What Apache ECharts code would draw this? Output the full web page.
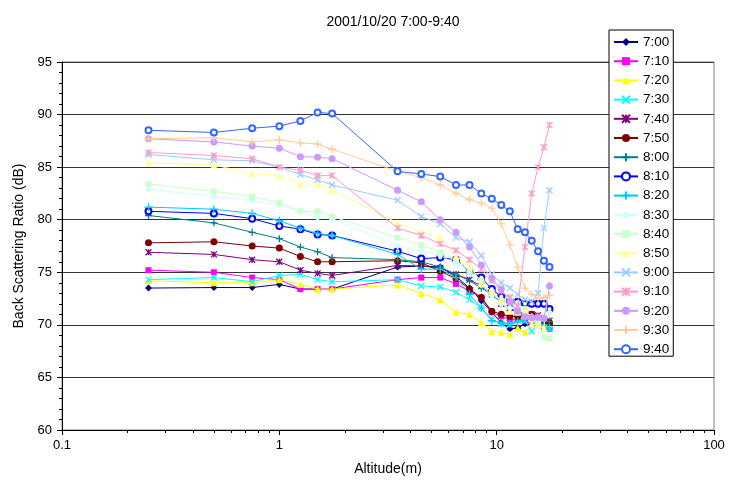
<!DOCTYPE html>
<html>
<head>
<meta charset="utf-8">
<script src="https://cdn.jsdelivr.net/npm/echarts@6/dist/echarts.min.js"></script>
<style>
  html, body { margin: 0; padding: 0; background: #fff; }
  #chart { width: 735px; height: 481px; }
</style>
</head>
<body>
<div id="chart"></div>
<script>
// altitude (m) of each sample
var altitude = [0.25, 0.5, 0.75, 1, 1.25, 1.5, 1.75, 3.5, 4.5, 5.5, 6.5, 7.5, 8.5, 9.5, 10.5, 11.5, 12.5, 13.5, 14.5, 15.5, 16.5, 17.5];

var times = ['7:00', '7:10', '7:20', '7:30', '7:40', '7:50', '8:00', '8:10', '8:20', '8:30', '8:40', '8:50', '9:00', '9:10', '9:20', '9:30', '9:40'];

// back scattering ratio (dB), one list per time
var s0700 = [73.5, 73.55, 73.55, 73.85, 73.4, 73.4, 73.4, 75.5, 75.6, 75.5, 74.6, 73.5, 72.3, 71.2, 70.2, 69.6, 69.7, 70.1, 70.0, 70.0, 70.1, 70.0];
var s0710 = [75.2, 75.0, 74.5, 74.3, 73.4, 73.4, 73.4, 74.3, 74.5, 74.5, 73.9, 73.2, 72.6, 71.2, 70.8, 70.5, 70.5, 70.4, 70.1, 70.3, 69.7, 69.6];
var s0720 = [74.2, 74.0, 74.0, 74.3, 73.85, 73.4, 73.4, 73.8, 73.0, 72.4, 71.2, 71.0, 70.2, 69.4, 69.3, 69.1, 69.7, 69.3, 70.0, 70.1, 70.0, 70.0];
var s0730 = [74.3, 74.5, 74.1, 74.7, 74.8, 74.3, 74.1, 74.3, 73.7, 73.6, 73.1, 72.4, 71.6, 70.5, 70.1, 70.0, 70.4, 70.4, 69.4, 70.0, 70.3, 69.6];
var s0740 = [76.9, 76.7, 76.2, 76.0, 75.2, 74.9, 74.7, 75.65, 75.6, 75.4, 74.8, 74.3, 73.7, 72.9, 72.0, 71.6, 71.2, 71.1, 71.0, 70.9, 70.6, 70.4];
var s0750 = [77.8, 77.9, 77.5, 77.3, 76.5, 76.0, 76.0, 76.1, 75.9, 75.1, 74.4, 73.4, 72.6, 71.3, 71.0, 70.8, 70.8, 70.9, 71.0, 70.4, 70.3, 70.2];
var s0800 = [80.4, 79.7, 78.8, 78.2, 77.4, 76.95, 76.4, 76.2, 76.0, 75.5, 74.8, 74.2, 73.5, 72.9, 72.0, 71.6, 71.2, 71.0, 70.8, 70.5, 70.5, 70.3];
var s0810 = [80.8, 80.6, 80.1, 79.4, 79.1, 78.6, 78.5, 77.0, 76.3, 76.4, 76.2, 75.1, 74.5, 73.4, 72.7, 72.3, 72.2, 72.0, 72.0, 72.0, 72.0, 71.5];
var s0820 = [81.2, 81.0, 80.6, 79.9, 79.2, 78.7, 78.5, 76.7, 75.3, 75.3, 74.5, 72.9, 71.6, 70.4, 70.2, 70.1, 70.3, 70.5, 70.6, 70.3, 70.0, 69.7];
var s0830 = [82.9, 82.2, 81.8, 81.4, 80.8, 80.2, 80.1, 77.5, 77.0, 76.6, 75.8, 74.9, 73.8, 72.8, 72.0, 71.6, 71.5, 71.3, 70.8, 70.4, 70.6, 71.2];
var s0840 = [83.4, 82.7, 82.2, 81.6, 80.8, 80.8, 80.3, 78.3, 77.6, 76.9, 76.1, 75.2, 74.2, 73.1, 72.3, 72.7, 72.0, 71.5, 70.5, 70.0, 68.8, 68.7];
var s0850 = [85.4, 85.2, 84.4, 84.2, 83.4, 83.4, 82.8, 79.7, 78.9, 78.3, 76.5, 75.7, 73.9, 73.2, 72.3, 71.3, 71.2, 71.3, 70.1, 70.0, 69.7, 74.0];
var s0900 = [86.2, 85.7, 85.6, 85.0, 84.3, 83.8, 83.3, 81.85, 80.3, 79.6, 78.3, 77.9, 76.6, 74.8, 74.0, 73.5, 72.9, 72.4, 72.2, 73.0, 79.2, 82.8];
var s0910 = [86.4, 86.1, 85.8, 85.0, 84.7, 84.2, 84.2, 79.2, 78.5, 77.7, 77.1, 76.2, 75.3, 74.2, 73.2, 72.6, 71.8, 77.4, 82.5, 85.0, 86.9, 89.0];
var s0920 = [87.7, 87.4, 87.0, 86.8, 86.0, 85.95, 85.8, 82.8, 81.7, 80.0, 78.8, 77.4, 75.7, 74.4, 73.4, 72.2, 71.3, 70.8, 70.7, 70.7, 70.6, 73.7];
var s0930 = [87.7, 87.8, 87.4, 87.6, 87.3, 87.2, 86.7, 84.6, 84.0, 83.3, 82.5, 81.9, 81.6, 81.1, 79.6, 77.6, 75.5, 73.5, 72.9, 72.5, 72.6, 72.8];
var s0940 = [88.5, 88.3, 88.7, 88.9, 89.4, 90.2, 90.1, 84.6, 84.35, 84.1, 83.3, 83.3, 82.5, 82.0, 81.4, 80.8, 79.1, 78.8, 78.0, 77.0, 76.1, 75.5];

var values = [s0700, s0710, s0720, s0730, s0740, s0750, s0800, s0810, s0820, s0830, s0840, s0850, s0900, s0910, s0920, s0930, s0940];

var colors = ['#000080', '#FF00FF', '#FFFF00', '#00FFFF', '#800080', '#800000', '#008080', '#0000FF',
              '#00CCFF', '#CCFFFF', '#CCFFCC', '#FFFF99', '#99CCFF', '#FF99CC', '#CC99FF', '#FFCC99', '#3366FF'];

// excel style markers
var X_MARK = 'path://M0,0L10,10M10,0L0,10';
var STAR_MARK = 'path://M0,0L10,10M10,0L0,10M5,0L5,10';
var PLUS_MARK = 'path://M5,0L5,10M0,5L10,5';
var marks = [
    ['diamond', 7], ['rect', 6], ['triangle', 7], [X_MARK, 6], [STAR_MARK, 6], ['circle', 7],
    ['plus', 7], ['emptyCircle', 6], ['plus', 8], ['diamond', 7], ['rect', 6], ['triangle', 7],
    [X_MARK, 6], [STAR_MARK, 6], ['circle', 7], ['plus', 8], ['emptyCircle', 6]
];

// minor ticks of the log axis
var minorTicks = [];
[0.1, 1, 10].forEach(function (d) {
    for (var k = 2; k <= 9; k++) minorTicks.push(+(k * d).toFixed(2));
});

var FONT = 'Liberation Sans, Arial, sans-serif';

var series = times.map(function (t, i) {
    var c = colors[i];
    var sym = marks[i][0];
    var stroked = sym.indexOf('path://') === 0 || sym === 'plus';
    if (sym === 'plus') sym = PLUS_MARK;
    return {
        name: t,
        type: 'line',
        data: altitude.map(function (a, j) { return [a, values[i][j]]; }),
        symbol: sym,
        symbolSize: marks[i][1],
        showAllSymbol: true,
        lineStyle: { color: c, width: 1 },
        itemStyle: stroked ? { color: c, borderColor: c, borderWidth: 1.3 }
                           : (sym === 'emptyCircle' ? { color: c, borderColor: c, borderWidth: 1 } : { color: c }),
        emphasis: { disabled: true },
        z: 2 + i
    };
});

var myEcharts = echarts.init(document.getElementById('chart'));
var option = {
    animation: false,
    backgroundColor: '#fff',
    textStyle: { fontFamily: FONT },
    title: {
        text: '2001/10/20 7:00-9:40',
        left: 388,
        top: 10,
        textAlign: 'center',
        textStyle: { fontSize: 14, fontWeight: 'normal', color: '#000', fontFamily: FONT }
    },
    legend: {
        orient: 'vertical',
        left: 609,
        top: 30,
        padding: [5, 4, 0, 4],
        itemWidth: 24,
        itemHeight: 10,
        itemGap: 5.2,
        backgroundColor: '#fff',
        borderColor: '#000',
        borderWidth: 1,
        selectedMode: false,
        data: times,
        textStyle: { fontSize: 13.5, color: '#000', lineHeight: 10, fontFamily: FONT }
    },
    grid: {
        left: 62, top: 62, right: 21, bottom: 50,
        show: true,
        borderColor: '#808080',
        borderWidth: 1
    },
    xAxis: [{
        type: 'log',
        logBase: 10,
        min: 0.1,
        max: 100,
        name: 'Altitude(m)',
        nameLocation: 'middle',
        nameGap: 32,
        nameTextStyle: { fontSize: 14, color: '#000', fontFamily: FONT },
        axisLine: { lineStyle: { color: '#000', width: 1 } },
        axisTick: { length: 5, lineStyle: { color: '#000' } },
        axisLabel: { fontSize: 13, color: '#000', margin: 9, fontFamily: FONT },
        splitLine: { show: false }
    }, {
        type: 'log',
        logBase: 10,
        min: 0.1,
        max: 100,
        position: 'bottom',
        axisLine: { show: false },
        axisLabel: { show: false },
        axisTick: { show: true, length: 3, customValues: minorTicks, lineStyle: { color: '#000' } },
        splitLine: { show: false }
    }],
    yAxis: {
        type: 'value',
        min: 60,
        max: 95,
        interval: 5,
        name: 'Back Scattering Ratio (dB)',
        nameLocation: 'middle',
        nameGap: 29,
        nameTextStyle: { fontSize: 14, color: '#000', fontFamily: FONT },
        axisLine: { show: true, lineStyle: { color: '#000', width: 1 } },
        axisTick: { show: true, length: 5, lineStyle: { color: '#000' } },
        minorTick: { show: true, splitNumber: 5, length: 3, lineStyle: { color: '#000' } },
        axisLabel: { fontSize: 13, color: '#000', margin: 10, fontFamily: FONT },
        splitLine: { lineStyle: { color: '#333', width: 1 } }
    },
    series: series
};
myEcharts.setOption(option);
</script>
</body>
</html>
